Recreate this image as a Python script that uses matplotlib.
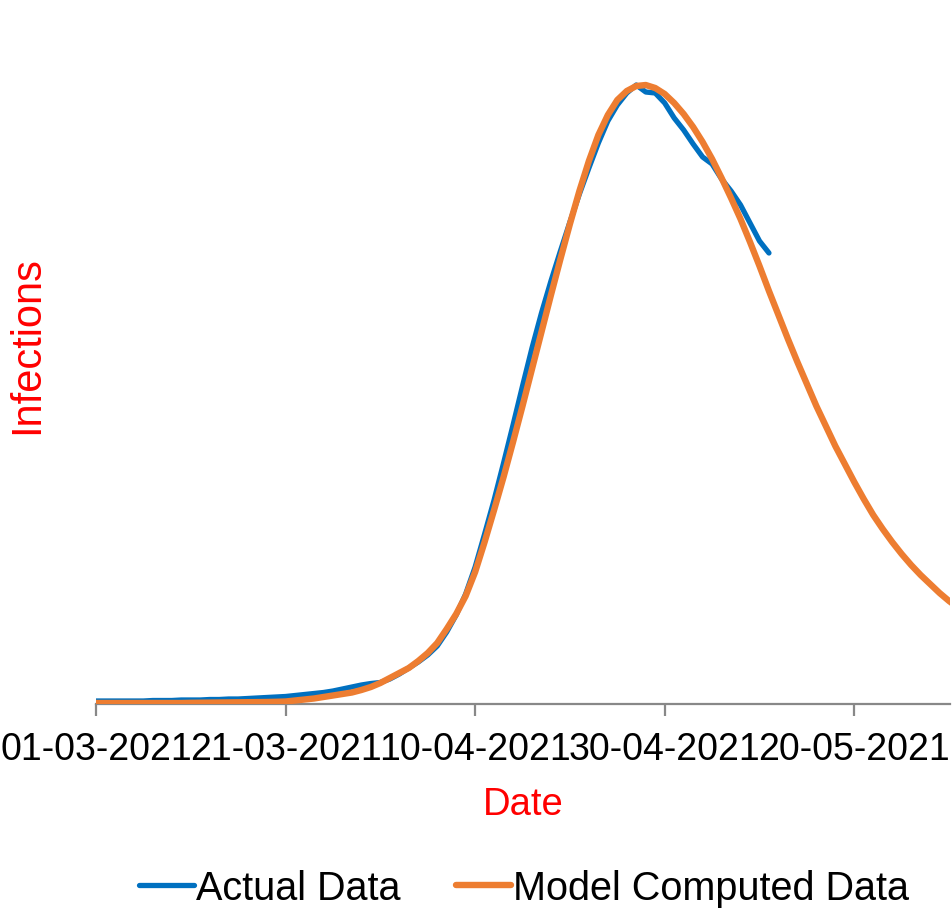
import matplotlib
matplotlib.use("Agg")
import matplotlib.pyplot as plt
import pandas as pd

plt.rcParams['font.family'] = ['Liberation Sans', 'DejaVu Sans']

start = pd.Timestamp("2021-03-01")

actual_values = [3, 3, 3, 3, 3, 3, 3.5, 3.5, 3.5, 4, 4, 4, 4.5, 4.5, 5, 5, 5.5, 6, 6.5, 7,
                 7.5, 8.5, 9.5, 10.5, 11.5, 13, 15, 17, 19, 20.5, 21.5, 25, 30, 36, 42, 49,
                 58, 72, 89, 110, 137, 170, 204, 241, 279, 318, 356, 391, 423, 453, 482, 510,
                 536, 561, 583, 599, 611, 619, 612, 611, 601, 586, 574, 560, 547, 540, 525,
                 513, 499, 481, 463, 451]

model_values = [1, 1, 1, 1, 1, 1, 1, 1, 1, 1, 1.2, 1.3, 1.4, 1.5, 1.6, 1.7, 1.8, 1.9, 2, 2.2,
                2.5, 3.5, 4.5, 5.5, 7, 8.5, 10, 11.5, 14, 17, 21, 26, 31, 36, 43, 51, 61, 75,
                90, 108, 132, 162, 194, 227, 262, 298, 335, 372, 409, 445, 480, 513, 543, 569,
                589, 604, 613, 618, 619, 616, 610, 601, 590, 577, 562, 545, 526, 506, 485, 462,
                438, 413, 389, 365, 342, 320, 298, 278, 258, 240, 222, 205, 189, 175, 162, 150,
                139, 129, 120, 111, 103, 96]

tick_dates = ["2021-03-01", "2021-03-21", "2021-04-10", "2021-04-30", "2021-05-20"]
tick_labels = ["01-03-2021", "21-03-2021", "10-04-2021", "30-04-2021", "20-05-2021"]

actual_dates = pd.date_range(start, periods=len(actual_values), freq="D")
model_dates = pd.date_range(start, periods=len(model_values), freq="D")

fig = plt.figure(figsize=(9.52, 9.12), dpi=100)
ax = fig.add_axes([96/952, 1-705/912, 854/952, 705/912])

ax.plot(actual_dates, actual_values, color="#0070C0", lw=3.8, solid_capstyle="round",
        solid_joinstyle="round", label="Actual Data", zorder=2)
ax.plot(model_dates, model_values, color="#ED7D31", lw=4.6, solid_capstyle="round",
        solid_joinstyle="round", label="Model Computed Data", zorder=3)

ax.set_xlim(start, start + pd.Timedelta(days=90.1))
ax.set_ylim(0, 705)

ax.set_xticks(pd.to_datetime(tick_dates))
ax.set_xticklabels(tick_labels)
ax.tick_params(axis="x", direction="out", length=8.5, width=1.6, color="#888888",
               labelsize=27, pad=11, labelcolor="black")
ax.set_yticks([])
for s in ["top", "right", "left"]:
    ax.spines[s].set_visible(False)
ax.spines["bottom"].set_color("#888888")
ax.spines["bottom"].set_linewidth(1.6)

ax.set_xlabel("Date", color="red", fontsize=27.5)
ax.xaxis.set_label_coords(0.5, -0.117)
ax.set_ylabel("Infections", color="red", fontsize=30)
ax.yaxis.set_label_coords(-0.057, 0.51)

fig.legend(loc="center", bbox_to_anchor=(524/952, 1-889/912), ncol=2, frameon=False,
           fontsize=28.5, handlelength=1.4, handletextpad=0.05, columnspacing=1.4)

fig.savefig("out.png", dpi=100)
